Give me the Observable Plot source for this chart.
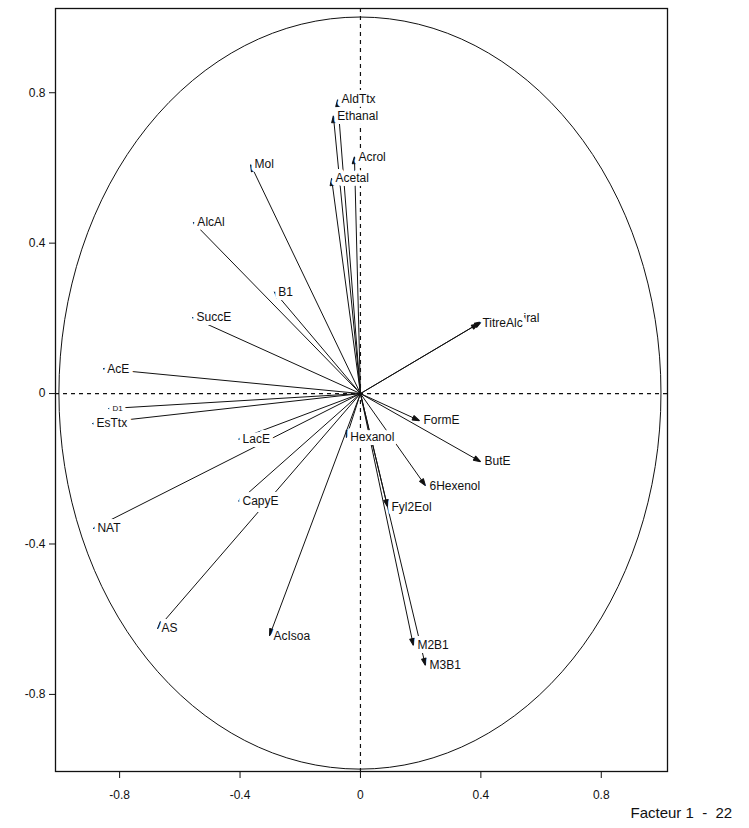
<!DOCTYPE html>
<html>
<head>
<meta charset="utf-8">
<script src="https://cdn.jsdelivr.net/npm/d3@7"></script>
<script src="https://cdn.jsdelivr.net/npm/@observablehq/plot@0.6"></script>
<style>
  html, body { margin: 0; padding: 0; background: #fff; }
  #chart { width: 749px; height: 828px; overflow: hidden; }
  #chart svg text { white-space: pre; }
</style>
</head>
<body>
<div id="chart"></div>
<script>
// Correlation circle: loadings of each variable on factors 1 and 2
const names = [
  "AldTtx", "Ethanal", "Acrol", "Acetal", "Mol", "AlcAl", "B1", "SuccE",
  "AcE", "D1", "EsTtx", "LacE", "NAT", "CapyE", "AS", "AcIsoa",
  "Hexanol", "FormE", "ButE", "6Hexenol", "Fyl2Eol", "M2B1", "M3B1", "TitreAlc"
];
const factor1 = [
  -0.076, -0.090, -0.020, -0.096, -0.365, -0.555, -0.286, -0.558,
  -0.854, -0.837, -0.890, -0.405, -0.887, -0.405, -0.674, -0.302,
  -0.047, 0.196, 0.399, 0.216, 0.090, 0.176, 0.216, 0.392
];
const factor2 = [
  0.782, 0.739, 0.630, 0.572, 0.609, 0.455, 0.271, 0.202,
  0.066, -0.040, -0.080, -0.122, -0.359, -0.287, -0.625, -0.644,
  -0.117, -0.072, -0.181, -0.245, -0.301, -0.670, -0.723, 0.186
];
// second variable lying almost under TitreAlc, only the end of its name shows
const hiddenName = ["iral"];
const hidden1 = [0.402];
const hidden2 = [0.191];

const ticks = [-0.8, -0.4, 0, 0.4, 0.8];
const axisTitle = ["Facteur 1  -  22"];

const vars = names.map((name, i) => ({name, x: factor1[i], y: factor2[i]}));
const hiddenVars = hiddenName.map((name, i) => ({name, x: hidden1[i], y: hidden2[i]}));
const allVars = hiddenVars.concat(vars);

const fmt = d => d === 0 ? "0" : d.toFixed(1);
const ink = "#111";

// small filled arrowhead
const head = (color, context) => {
  const m = d3.create("svg:marker")
    .attr("viewBox", "-10 -5 10 10")
    .attr("markerWidth", 10)
    .attr("markerHeight", 10)
    .attr("markerUnits", "userSpaceOnUse")
    .attr("orient", "auto")
    .attr("fill", ink);
  m.append("path").attr("d", "M-7,-2.4L0,0L-7,2.4Z");
  return m.node();
};

// unit circle drawn through the x and y scales
const unitCircle = (index, scales) => {
  const {x, y} = scales;
  return d3.create("svg:ellipse")
    .attr("cx", x(0)).attr("cy", y(0))
    .attr("rx", x(1) - x(0)).attr("ry", y(0) - y(1))
    .attr("fill", "none").attr("stroke", ink).attr("stroke-width", 1)
    .node();
};

const chart = Plot.plot({
  width: 749,
  height: 828,
  marginTop: 8,
  marginLeft: 55,
  marginRight: 82,
  marginBottom: 57,
  style: {fontFamily: "'Liberation Sans', Arial, sans-serif", fontSize: "12px", color: ink, background: "#fff"},
  x: {domain: [-1.013, 1.020], ticks, tickFormat: fmt, tickSize: 7, tickPadding: 12, label: null},
  y: {domain: [-1.005, 1.024], ticks, tickFormat: fmt, tickSize: 6, tickPadding: 4, label: null},
  marks: [
    unitCircle,
    Plot.ruleX([0], {stroke: ink, strokeWidth: 1.2, strokeDasharray: "4,4"}),
    Plot.ruleY([0], {stroke: ink, strokeWidth: 1.2, strokeDasharray: "4,4"}),
    // arrows from the origin
    Plot.link(allVars, {x1: () => 0, y1: () => 0, x2: "x", y2: "y", stroke: ink, strokeWidth: 1, markerEnd: head}),
    // labels on a white box-like halo that masks the arrows beneath them
    Plot.text(hiddenVars, {x: "x", y: "y", text: "name", textAnchor: "start", dx: 42, dy: -4, fill: ink, stroke: "#fff", strokeWidth: 6}),
    Plot.text(vars, {
      x: "x", y: "y", text: "name", textAnchor: "start", dx: 4,
      fontSize: d => d.name === "D1" ? 8 : 12,
      fill: ink, stroke: "#fff", strokeWidth: 8, strokeLinejoin: "round"
    }),
    Plot.frame({stroke: ink, strokeWidth: 1.3}),
    Plot.text(axisTitle, {text: d => d, frameAnchor: "bottom-right", dx: -37, dy: 46, textAnchor: "start", fontSize: 15, fill: ink})
  ]
});

document.getElementById("chart").append(chart);
</script>
</body>
</html>
